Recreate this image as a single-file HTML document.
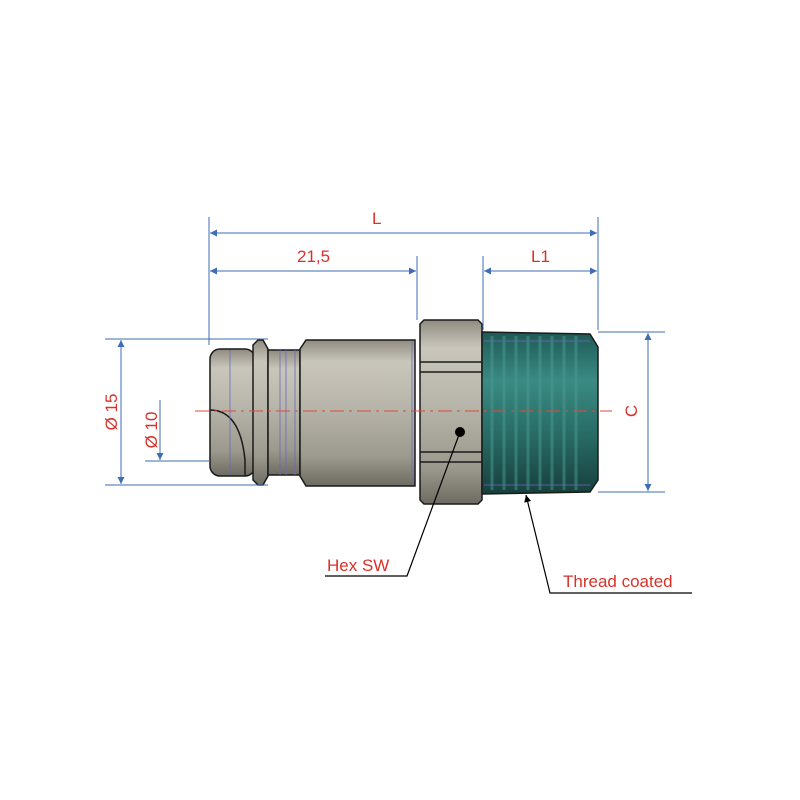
<!DOCTYPE html>
<html><head><style>body{margin:0;background:#fff}svg{display:block}</style></head><body>
<svg width="800" height="800" viewBox="0 0 800 800" xmlns="http://www.w3.org/2000/svg" font-family="Liberation Sans, sans-serif">
<defs>
<linearGradient id="m" x1="0" y1="0" x2="0" y2="1">
<stop offset="0" stop-color="#8f8b80"/><stop offset="0.15" stop-color="#c9c6bb"/><stop offset="0.45" stop-color="#b8b5aa"/><stop offset="0.8" stop-color="#9c998e"/><stop offset="1" stop-color="#6e6b62"/></linearGradient>
<linearGradient id="t" x1="0" y1="0" x2="0" y2="1">
<stop offset="0" stop-color="#1f5a55"/><stop offset="0.3" stop-color="#3a8a83"/><stop offset="0.6" stop-color="#2a6f69"/><stop offset="1" stop-color="#17403d"/></linearGradient>
<marker id="a" viewBox="0 0 10 10" refX="10" refY="5" markerWidth="13" markerHeight="7" orient="auto-start-reverse" markerUnits="userSpaceOnUse"><path d="M0,0L10,5L0,10z" fill="#3d6db5"/></marker>
<marker id="k" viewBox="0 0 10 10" refX="10" refY="5" markerWidth="12" markerHeight="7" orient="auto" markerUnits="userSpaceOnUse"><path d="M0,0L10,5L0,10z" fill="#000"/></marker>
</defs>
<g stroke="#1a1a1a" stroke-width="1.5">
<rect x="210" y="349" width="45" height="127" rx="10" fill="url(#m)"/>
<path d="M253,345 L258,340 L263,340 L268,349 L268,476 L263,485 L258,485 L253,480 Z" fill="url(#m)"/>
<rect x="268" y="350" width="32" height="125" fill="url(#m)"/>
<path d="M300,349 L306,340 L415,340 L415,486 L306,486 L300,476 Z" fill="url(#m)"/>
<path d="M420,324 L424,320 L478,320 L482,324 L482,500 L478,504 L424,504 L420,500 Z" fill="url(#m)"/>
<line x1="420" y1="362" x2="482" y2="362"/><line x1="420" y1="372" x2="482" y2="372"/>
<line x1="420" y1="452" x2="482" y2="452"/><line x1="420" y1="462" x2="482" y2="462"/>
<path d="M482,332 L590,334 L598,347 L598,480 L590,492 L482,494 Z" fill="url(#t)"/>
<path d="M210,410 Q240,410 245,460 L245,476" fill="none"/>
</g>
<g stroke="#4a9b93" stroke-width="3" opacity="0.5">
<line x1="492" y1="336" x2="492" y2="490"/><line x1="504" y1="336" x2="504" y2="490"/><line x1="516" y1="336" x2="516" y2="490"/><line x1="528" y1="336" x2="528" y2="490"/><line x1="540" y1="336" x2="540" y2="490"/><line x1="552" y1="336" x2="552" y2="490"/><line x1="564" y1="336" x2="564" y2="490"/><line x1="576" y1="336" x2="576" y2="490"/>
</g>
<g stroke="#6a6ac0" stroke-width="0.8" fill="none">
<line x1="230" y1="350" x2="230" y2="475"/><line x1="280" y1="350" x2="280" y2="475"/><line x1="286" y1="350" x2="286" y2="475"/><line x1="295" y1="350" x2="295" y2="475"/><line x1="412" y1="342" x2="412" y2="484"/>
<line x1="484" y1="341" x2="590" y2="341"/><line x1="484" y1="485" x2="590" y2="485"/>
</g>
<line x1="195" y1="411" x2="612" y2="411" stroke="#e04a3a" stroke-width="1" stroke-dasharray="14,5,3,5"/>
<circle cx="460" cy="432" r="5" fill="#000"/>
<g stroke="#3d6db5" stroke-width="1" fill="none">
<line x1="209" y1="217" x2="209" y2="345"/><line x1="598" y1="217" x2="598" y2="330"/>
<line x1="417" y1="256" x2="417" y2="320"/><line x1="483" y1="256" x2="483" y2="330"/>
<line x1="210" y1="233" x2="597" y2="233" marker-start="url(#a)" marker-end="url(#a)"/>
<line x1="210" y1="271" x2="416" y2="271" marker-start="url(#a)" marker-end="url(#a)"/>
<line x1="484" y1="271" x2="597" y2="271" marker-start="url(#a)" marker-end="url(#a)"/>
<line x1="105" y1="339" x2="268" y2="339"/><line x1="105" y1="485" x2="268" y2="485"/>
<line x1="121" y1="340" x2="121" y2="484" marker-start="url(#a)" marker-end="url(#a)"/>
<line x1="145" y1="461" x2="210" y2="461"/>
<line x1="160" y1="400" x2="160" y2="460" marker-end="url(#a)"/>
<line x1="598" y1="332" x2="665" y2="332"/><line x1="598" y1="492" x2="665" y2="492"/>
<line x1="648" y1="333" x2="648" y2="491" marker-start="url(#a)" marker-end="url(#a)"/>
</g>
<g fill="#d9322a" font-size="17">
<text x="372" y="224">L</text>
<text x="297" y="262">21,5</text>
<text x="531" y="262">L1</text>
<text transform="translate(117,412) rotate(-90)" text-anchor="middle">Ø 15</text>
<text transform="translate(157,430) rotate(-90)" text-anchor="middle">Ø 10</text>
<text transform="translate(637,411) rotate(-90)" text-anchor="middle">C</text>
<text x="327" y="571">Hex SW</text>
<text x="563" y="587">Thread coated</text>
</g>
<g stroke="#000" stroke-width="1.2" fill="none">
<polyline points="460,432 407,576 325,576"/>
<polyline points="692,593 550,593 526,495" marker-end="url(#k)"/>
</g>
</svg>
</body></html>
